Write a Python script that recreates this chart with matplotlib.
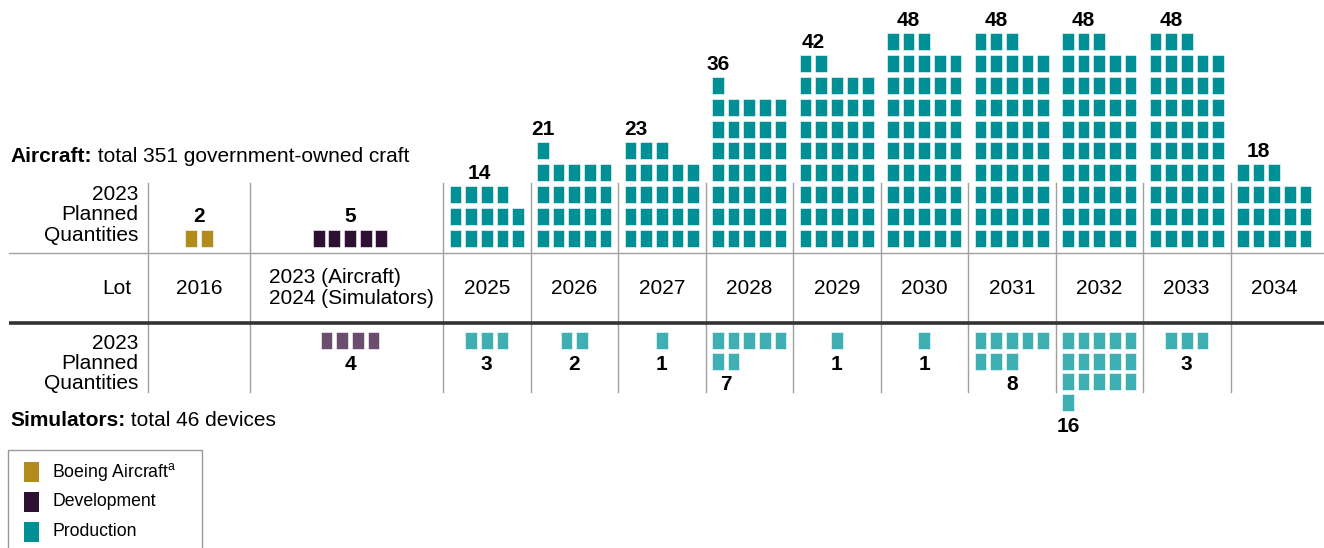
import math
import matplotlib
matplotlib.use('Agg')
import matplotlib.pyplot as plt
from matplotlib.patches import Rectangle

plt.rcParams['font.family'] = ['Liberation Sans', 'DejaVu Sans']
plt.rcParams['mathtext.fontset'] = 'custom'
plt.rcParams['mathtext.rm'] = 'Liberation Sans'

# ---- data ----
lots = ['2016', '2023 (Aircraft)\n2024 (Simulators)', '2025', '2026', '2027', '2028',
        '2029', '2030', '2031', '2032', '2033', '2034']
aircraft_qty = [2, 5, 14, 21, 23, 36, 42, 48, 48, 48, 48, 18]
aircraft_kind = ['boeing', 'dev', 'prod', 'prod', 'prod', 'prod', 'prod', 'prod',
                 'prod', 'prod', 'prod', 'prod']
sim_qty = [0, 4, 3, 2, 1, 7, 1, 1, 8, 16, 3, 0]
sim_kind = [None, 'dev', 'prod', 'prod', 'prod', 'prod', 'prod', 'prod',
            'prod', 'prod', 'prod', None]
legend_labels = ['Boeing Aircraft$^{\\rm a}$', 'Development', 'Production']

# ---- style ----
air_colors = {'boeing': '#B18C1C', 'dev': '#2E1033', 'prod': '#008F95'}
sim_colors = {'dev': '#6B4E6E', 'prod': '#40AFB3'}
legend_colors = ['#B18C1C', '#2E1033', '#008F95']
FS = 15.0

col_edges = [148, 250, 443, 530.5, 618, 705.5, 793, 880.5, 968, 1055.5, 1143, 1230.5, 1318]
center_nudge = {1: 3.5}
air_label_nudge = {4: -10}
sq_w, sq_h, pitch_x = 11.7, 17.0, 15.67
pitch_top, pitch_bot = 21.8, 20.8
air_base, sim_top = 246.5, 331.7

fig = plt.figure(figsize=(13.24, 5.48), dpi=100)
ax = fig.add_axes([0, 0, 1, 1])
ax.set_xlim(0, 1324)
ax.set_ylim(548, 0)
ax.axis('off')


def waffle(n, xc, color, up):
    k = min(n, 5)
    left = xc - ((k - 1) * pitch_x + sq_w) / 2
    for i in range(n):
        r, c = divmod(i, 5)
        if up:
            y = air_base - sq_h - r * pitch_top
        else:
            y = sim_top + r * pitch_bot
        ax.add_patch(Rectangle((left + c * pitch_x, y), sq_w, sq_h, facecolor=color,
                               edgecolor='white', linewidth=0.4))
    last = (n - 1) // 5
    m = n - last * 5
    lx = left + ((m - 1) * pitch_x + sq_w) / 2
    if up:
        return lx, air_base - sq_h - last * pitch_top
    return lx, sim_top + last * pitch_bot + sq_h


# grid lines
for xe in col_edges[:-1]:
    ax.plot([xe, xe], [183, 392], color='#a0a0a0', lw=1)
ax.plot([9, 1324], [252.5, 252.5], color='#a0a0a0', lw=1)
ax.plot([9, 1324], [322.5, 322.5], color='#333333', lw=2.6, solid_capstyle='butt')

for i, lot in enumerate(lots):
    xc = (col_edges[i] + col_edges[i + 1]) / 2 + center_nudge.get(i, 0)
    if '\n' in lot:
        ax.text(269, 288, lot, ha='left', va='center', fontsize=FS, linespacing=1.1)
    else:
        ax.text(xc, 288, lot, ha='center', va='center', fontsize=FS)
    n = aircraft_qty[i]
    lx, ty = waffle(n, xc, air_colors[aircraft_kind[i]], True)
    ax.text(lx + air_label_nudge.get(i, 0), ty - 7, str(n), ha='center', va='baseline',
            fontsize=FS, fontweight='bold')
    n = sim_qty[i]
    if n:
        lx, by = waffle(n, xc, sim_colors[sim_kind[i]], False)
        if n == 8:
            lx = xc
        ax.text(lx, by + 21, str(n), ha='center', va='baseline', fontsize=FS, fontweight='bold')

# row headers
for y0 in (215, 363.5):
    ax.text(138, y0, '2023\nPlanned\nQuantities', ha='right', va='center', fontsize=FS,
            linespacing=1.08)
ax.text(131, 288, 'Lot', ha='right', va='center', fontsize=FS)

t1 = ax.text(10, 156, 'Aircraft:', ha='left', va='center', fontsize=FS, fontweight='bold')
ax.annotate(' total 351 government-owned craft', xy=(1, 0), xycoords=t1, ha='left',
            va='bottom', fontsize=FS)
t2 = ax.text(10, 420, 'Simulators:', ha='left', va='center', fontsize=FS, fontweight='bold')
ax.annotate(' total 46 devices', xy=(1, 0), xycoords=t2, ha='left', va='bottom', fontsize=FS)

# legend
ax.add_patch(Rectangle((8, 450), 194, 120, facecolor='none', edgecolor='#999999', lw=1))
for j, (lab, col) in enumerate(zip(legend_labels, legend_colors)):
    yc = 471.7 + j * 30
    ax.add_patch(Rectangle((24, yc - 10), 15, 20, facecolor=col, edgecolor='none'))
    ax.text(52, yc, lab, ha='left', va='center', fontsize=12.7)

fig.savefig('out.png', dpi=100)
